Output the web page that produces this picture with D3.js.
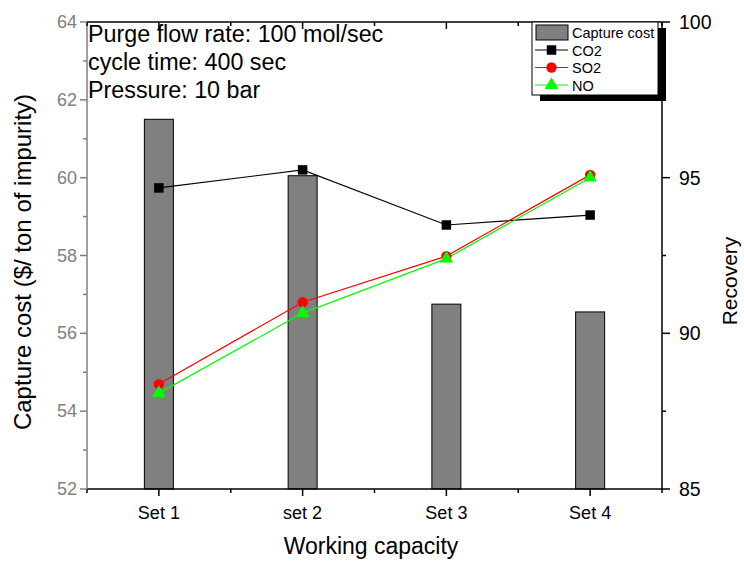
<!DOCTYPE html>
<html>
<head>
<meta charset="utf-8">
<script src="https://cdn.jsdelivr.net/npm/d3@7"></script>
<style>
  body { margin: 0; background: #fff; }
  text { font-family: "Liberation Sans", Arial, sans-serif; }
</style>
</head>
<body>
<svg id="chart"></svg>
<script>
// data
const categories = ["Set 1", "set 2", "Set 3", "Set 4"];
const captureCost = [61.5, 60.05, 56.75, 56.55];
const co2 = [94.67, 95.25, 93.48, 93.8];
const so2 = [88.37, 91.0, 92.48, 95.09];
const no = [88.08, 90.65, 92.4, 95.0];
const leftTicks = [52, 54, 56, 58, 60, 62, 64];
const rightTicks = [85, 90, 95, 100];
const notes = ["Purge flow rate: 100 mol/sec", "cycle time: 400 sec", "Pressure: 10 bar"];

const w = 744, h = 561;
const pLeft = 87, pRight = 662, pTop = 22, pBottom = 489;

const svg = d3.select("#chart").attr("width", w).attr("height", h);

const x = d3.scaleBand().domain(categories).range([pLeft, pRight]).padding(0);
const yL = d3.scaleLinear().domain([52, 64]).range([pBottom, pTop]);
const yR = d3.scaleLinear().domain([85, 100]).range([pBottom, pTop]);

const barW = 29;
const grey = "#808080";

// bars
svg.append("g").selectAll("rect")
   .data(captureCost)
   .enter().append("rect")
   .attr("x", (d, i) => x(categories[i]) + x.bandwidth()/2 - barW/2)
   .attr("y", d => yL(d))
   .attr("width", barW)
   .attr("height", d => yL(52) - yL(d))
   .attr("fill", grey)
   .attr("stroke", "#000")
   .attr("stroke-width", 1);

// notes (drawn under the frame ticks)
notes.forEach((n, i) => {
  svg.append("text").attr("x", 88).attr("y", 42 + i * 28)
     .attr("font-size", 23.3).text(n);
});

// axes
const xMinor = d3.range(0, categories.length + 1).map(i => pLeft + i * x.bandwidth());
const cx = (c) => x(c) + x.bandwidth()/2;

const axes = svg.append("g");
axes.append("line").attr("x1", pLeft).attr("x2", pRight).attr("y1", pBottom).attr("y2", pBottom)
    .attr("stroke", "#000").attr("stroke-width", 1.5);
axes.append("line").attr("x1", pLeft).attr("x2", pRight).attr("y1", pTop).attr("y2", pTop)
    .attr("stroke", "#000").attr("stroke-width", 1.5);
axes.append("line").attr("x1", pRight).attr("x2", pRight).attr("y1", pTop).attr("y2", pBottom)
    .attr("stroke", "#000").attr("stroke-width", 1.5);
axes.append("line").attr("x1", pLeft).attr("x2", pLeft).attr("y1", pTop).attr("y2", pBottom)
    .attr("stroke", grey).attr("stroke-width", 1.5);

categories.forEach(c => {
  axes.append("line").attr("x1", cx(c)).attr("x2", cx(c)).attr("y1", pBottom).attr("y2", pBottom + 7)
      .attr("stroke", "#000").attr("stroke-width", 1.5);
  axes.append("line").attr("x1", cx(c)).attr("x2", cx(c)).attr("y1", pTop).attr("y2", pTop + 7)
      .attr("stroke", "#000").attr("stroke-width", 1.5);
  axes.append("text").attr("x", cx(c)).attr("y", pBottom + 30)
      .attr("text-anchor", "middle").attr("font-size", 18).text(c);
});
xMinor.forEach(v => {
  axes.append("line").attr("x1", v).attr("x2", v).attr("y1", pBottom).attr("y2", pBottom + 4)
      .attr("stroke", "#000").attr("stroke-width", 1.5);
  axes.append("line").attr("x1", v).attr("x2", v).attr("y1", pTop).attr("y2", pTop + 4)
      .attr("stroke", "#000").attr("stroke-width", 1.5);
});

// left axis (grey)
leftTicks.forEach(t => {
  axes.append("line").attr("x1", pLeft - 7).attr("x2", pLeft).attr("y1", yL(t)).attr("y2", yL(t))
      .attr("stroke", grey).attr("stroke-width", 1.5);
  axes.append("text").attr("x", pLeft - 10).attr("y", yL(t) + 6)
      .attr("text-anchor", "end").attr("font-size", 18).attr("fill", grey).text(t);
});
d3.range(53, 64, 2).forEach(t => {
  axes.append("line").attr("x1", pLeft - 4).attr("x2", pLeft).attr("y1", yL(t)).attr("y2", yL(t))
      .attr("stroke", grey).attr("stroke-width", 1.5);
});

// right axis
rightTicks.forEach(t => {
  axes.append("line").attr("x1", pRight).attr("x2", pRight + 8).attr("y1", yR(t)).attr("y2", yR(t))
      .attr("stroke", "#000").attr("stroke-width", 1.5);
  axes.append("text").attr("x", pRight + 17).attr("y", yR(t) + 7)
      .attr("text-anchor", "start").attr("font-size", 19.5).text(t);
});
[87.5, 92.5, 97.5].forEach(t => {
  axes.append("line").attr("x1", pRight).attr("x2", pRight + 4).attr("y1", yR(t)).attr("y2", yR(t))
      .attr("stroke", "#000").attr("stroke-width", 1.5);
});

// axis titles
svg.append("text").attr("transform", "translate(31,262) rotate(-90)")
   .attr("text-anchor", "middle").attr("font-size", 24).text("Capture cost ($/ ton of impurity)");
svg.append("text").attr("transform", "translate(737,281) rotate(-90)")
   .attr("text-anchor", "middle").attr("font-size", 21).text("Recovery");
svg.append("text").attr("x", 371).attr("y", 554)
   .attr("text-anchor", "middle").attr("font-size", 23).text("Working capacity");

// lines
const series = [
  {name: "CO2", values: co2, color: "#000", shape: d3.symbolSquare, size: 90},
  {name: "SO2", values: so2, color: "#ff0000", shape: d3.symbolCircle, size: 85},
  {name: "NO", values: no, color: "#00ff00", shape: d3.symbolTriangle, size: 80}
];
const line = d3.line().x((d, i) => cx(categories[i])).y(d => yR(d));

series.forEach(s => {
  svg.append("path").datum(s.values)
     .attr("fill", "none").attr("stroke", s.color).attr("stroke-width", 1.2)
     .attr("d", line);
});
series.forEach(s => {
  svg.append("g").selectAll("path")
     .data(s.values).enter().append("path")
     .attr("transform", (d, i) => "translate(" + cx(categories[i]) + "," + yR(d) + ")")
     .attr("d", d3.symbol().type(s.shape).size(s.size))
     .attr("fill", s.color);
});

// legend
const lg = svg.append("g").attr("transform", "translate(532,22)");
const lw = 126, lh = 73;
lg.append("rect").attr("x", 8).attr("y", 6).attr("width", lw).attr("height", lh).attr("fill", "#000");
lg.append("rect").attr("x", 0).attr("y", 0).attr("width", lw).attr("height", lh)
  .attr("fill", "#fff").attr("stroke", "#000").attr("stroke-width", 1);
lg.append("rect").attr("x", 4).attr("y", 3).attr("width", 32).attr("height", 15)
  .attr("fill", grey).attr("stroke", "#000").attr("stroke-width", 1);
lg.append("text").attr("x", 40).attr("y", 15.5).attr("font-size", 14.5).text("Capture cost");
series.forEach((s, i) => {
  const yy = 28 + i * 17.5;
  lg.append("line").attr("x1", 3).attr("x2", 36).attr("y1", yy).attr("y2", yy)
    .attr("stroke", s.color).attr("stroke-width", 1.2);
  lg.append("path").attr("transform", "translate(19.5," + yy + ")")
    .attr("d", d3.symbol().type(s.shape).size(s.size)).attr("fill", s.color);
  lg.append("text").attr("x", 40).attr("y", yy + 5.5).attr("font-size", 14.5).text(s.name);
});
</script>
</body>
</html>
